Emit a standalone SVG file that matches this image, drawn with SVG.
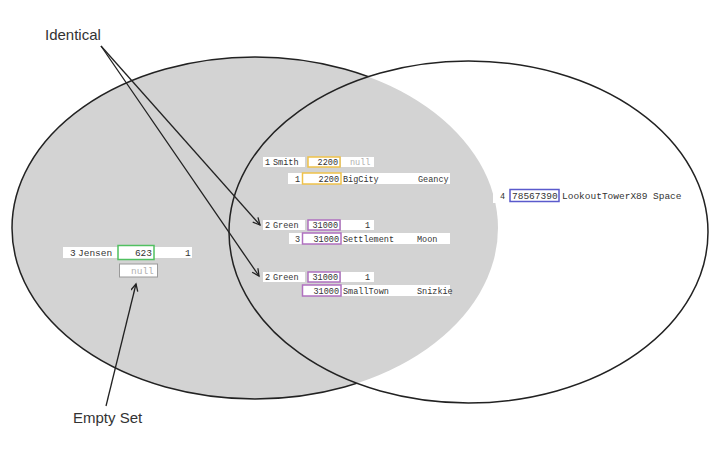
<svg xmlns="http://www.w3.org/2000/svg" width="720" height="462" viewBox="0 0 720 462">
  <style>
    .lbl { font-family: "Liberation Sans", "Open Sans", sans-serif; font-size: 15px; fill: #333; }
    .c { font-family: "Liberation Mono", "DejaVu Sans Mono", monospace; font-size: 8.5px; fill: #333; }
    .cl { font-family: "Liberation Mono", "DejaVu Sans Mono", monospace; font-size: 9.5px; fill: #333; }
    .nul { fill: #b0b0b0; }
    .bg { fill: #ffffff; stroke: none; }
    .ky { fill: #ffffff; stroke: #efc24a; stroke-width: 1.5; }
    .kp { fill: #ffffff; stroke: #b070c0; stroke-width: 1.5; }
    .kb { fill: #ffffff; stroke: #5a5acc; stroke-width: 1.5; }
    .kg { fill: #ffffff; stroke: #50c060; stroke-width: 1.5; }
    .kn { fill: #ffffff; stroke: #9a9a9a; stroke-width: 1; }
    .conn { stroke: #222; stroke-width: 1.3; fill: none; marker-end: url(#ah); }
    .end { text-anchor: end; }
  </style>
  <defs>
    <marker id="ah" markerWidth="10" markerHeight="10" refX="8" refY="4" orient="auto" markerUnits="userSpaceOnUse">
      <path d="M1,0.5 L8,4 L1,7.5" fill="none" stroke="#222" stroke-width="1.3"/>
    </marker>
    <mask id="outsideRight">
      <rect x="0" y="0" width="720" height="462" fill="#fff"/>
      <ellipse cx="468.5" cy="232" rx="239.5" ry="171" fill="#000"/>
    </mask>
  </defs>
  <rect x="0" y="0" width="720" height="462" fill="#ffffff"/>

  <g id="setA">
    <ellipse cx="255" cy="228" rx="243" ry="171" fill="#d3d3d3"/>
    <ellipse cx="255" cy="228" rx="243" ry="171" fill="none" stroke="#222" stroke-width="1.5" mask="url(#outsideRight)"/>
  </g>
  <g id="setB">
    <ellipse cx="468.5" cy="232" rx="239.5" ry="171" fill="none" stroke="#222" stroke-width="1.5"/>
  </g>

  <g id="row-smith">
    <rect class="bg" x="263" y="157" width="42" height="10"/>
    <text class="c" x="265" y="165">1</text>
    <text class="c" x="273" y="165">Smith</text>
    <rect class="ky" x="308" y="157" width="32" height="10"/>
    <text class="c end" x="338" y="165">2200</text>
    <rect class="bg" x="341" y="157" width="33" height="10"/>
    <text class="c nul" x="350" y="165">null</text>
  </g>
  <g id="row-bigcity">
    <rect class="bg" x="288" y="173" width="162" height="11"/>
    <text class="c" x="295" y="181.5">1</text>
    <rect class="ky" x="302.5" y="173" width="38.5" height="11"/>
    <text class="c end" x="339" y="181.5">2200</text>
    <text class="c" x="343" y="181.5">BigCity</text>
    <text class="c" x="418" y="181.5">Geancy</text>
  </g>

  <g id="row-green1">
    <rect class="bg" x="263" y="220" width="42" height="10"/>
    <text class="c" x="265" y="228">2</text>
    <text class="c" x="273" y="228">Green</text>
    <rect class="kp" x="308" y="220" width="32" height="10"/>
    <text class="c end" x="338" y="228">31000</text>
    <rect class="bg" x="341" y="220" width="33" height="10"/>
    <text class="c" x="365" y="228">1</text>
  </g>
  <g id="row-settlement">
    <rect class="bg" x="289" y="233" width="161" height="11"/>
    <text class="c" x="295" y="241.5">3</text>
    <rect class="kp" x="302.5" y="233" width="38.5" height="11"/>
    <text class="c end" x="339" y="241.5">31000</text>
    <text class="c" x="343" y="241.5">Settlement</text>
    <text class="c" x="417" y="241.5">Moon</text>
  </g>

  <g id="row-green2">
    <rect class="bg" x="263" y="272" width="42" height="10"/>
    <text class="c" x="265" y="280">2</text>
    <text class="c" x="273" y="280">Green</text>
    <rect class="kp" x="308" y="272" width="32" height="10"/>
    <text class="c end" x="338" y="280">31000</text>
    <rect class="bg" x="341" y="272" width="33" height="10"/>
    <text class="c" x="365" y="280">1</text>
  </g>
  <g id="row-smalltown">
    <rect class="bg" x="303" y="285" width="147" height="11"/>
    <rect class="kp" x="302.5" y="285" width="38.5" height="11"/>
    <text class="c end" x="339" y="293.5">31000</text>
    <text class="c" x="343" y="293.5">SmallTown</text>
    <text class="c" x="417" y="293.5">Snizkie</text>
  </g>

  <g id="row-lookout">
    <rect class="bg" x="493" y="188" width="199" height="15"/>
    <text class="c" x="500" y="199">4</text>
    <rect class="kb" x="510" y="189.5" width="49" height="12"/>
    <text class="cl" x="512" y="199">78567390</text>
    <text class="cl" x="562" y="199">LookoutTowerX89</text>
    <text class="cl" x="653" y="199">Space</text>
  </g>

  <g id="row-jensen">
    <rect class="bg" x="63" y="247" width="129" height="11"/>
    <text class="cl" x="70" y="256">3</text>
    <text class="cl" x="78" y="256">Jensen</text>
    <rect class="kg" x="118" y="245.5" width="36" height="14"/>
    <text class="cl end" x="152" y="256">623</text>
    <text class="cl" x="185" y="256">1</text>
  </g>
  <g id="empty-null">
    <rect class="kn" x="119.5" y="264" width="38" height="13"/>
    <text class="cl nul" x="131" y="274">null</text>
  </g>

  <g id="label-identical">
    <text class="lbl" x="45" y="40">Identical</text>
  </g>
  <g id="label-empty">
    <text class="lbl" x="73" y="423">Empty Set</text>
  </g>

  <g id="connectors">
    <line class="conn" x1="101" y1="46" x2="260" y2="225"/>
    <line class="conn" x1="101" y1="46" x2="259" y2="276"/>
    <line class="conn" x1="106" y1="406" x2="136" y2="284"/>
  </g>
</svg>
